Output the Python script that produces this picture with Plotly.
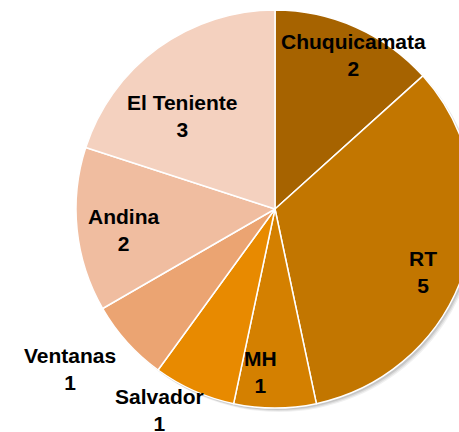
import math
import plotly.graph_objects as go

labels = ["Chuquicamata", "RT", "MH", "Salvador", "Ventanas", "Andina", "El Teniente"]
values = [2, 5, 1, 1, 1, 2, 3]
colors = ["#A66300", "#C27600", "#D48000", "#E88A00", "#EBA472", "#F0BDA0", "#F4D1BF"]
# label placement (radius as fraction of pie radius, angle tweak in degrees)
label_r = [0.87, 0.81, 0.82, 1.165, 1.31, 0.77, 0.66]
label_dang = [3, 5, 5, 6, 4, -2, -9]

W, H = 520, 432
cx, cy, R = 275, 209, 199
FONT = "Liberation Sans, Arial, sans-serif"


def dom(dx=0, dy=0):
    return dict(x=[(cx + dx - R) / W, (cx + dx + R) / W],
                y=[(H - cy - dy - R) / H, (H - cy - dy + R) / H])


fig = go.Figure()
# soft shadow
for off, a in [(4, 0.06), (3, 0.08), (2, 0.10)]:
    fig.add_trace(go.Pie(values=[1], labels=["s"], sort=False, textinfo="none",
                         marker=dict(colors=[f"rgba(0,0,0,{a})"], line=dict(width=0)),
                         hoverinfo="skip", showlegend=False, domain=dom(off, off)))

fig.add_trace(go.Pie(
    labels=labels, values=values, sort=False, direction="clockwise", rotation=0,
    marker=dict(colors=colors, line=dict(color="white", width=1.5)),
    textinfo="none", hoverinfo="label+value", showlegend=False,
    domain=dom(),
))

total = sum(values)
cum = 0
for lab, v, rf, da in zip(labels, values, label_r, label_dang):
    mid = (cum + v / 2) / total * 360 + da
    cum += v
    th = math.radians(mid)
    px = cx + rf * R * math.sin(th)
    py = cy - rf * R * math.cos(th)
    fig.add_annotation(x=px / W, y=(H - py) / H, xref="paper", yref="paper",
                       text=f"<b>{lab}</b><br><b>{v}</b>", showarrow=False,
                       xanchor="center", yanchor="middle",
                       font=dict(family=FONT, size=21, color="black"))

fig.update_layout(
    width=W, height=H, margin=dict(l=0, r=0, t=0, b=0, autoexpand=False),
    paper_bgcolor="white", plot_bgcolor="white",
    font=dict(family=FONT),
)
fig.write_html("out.html", post_script="document.body.style.margin='0';document.body.style.overflow='hidden';")
